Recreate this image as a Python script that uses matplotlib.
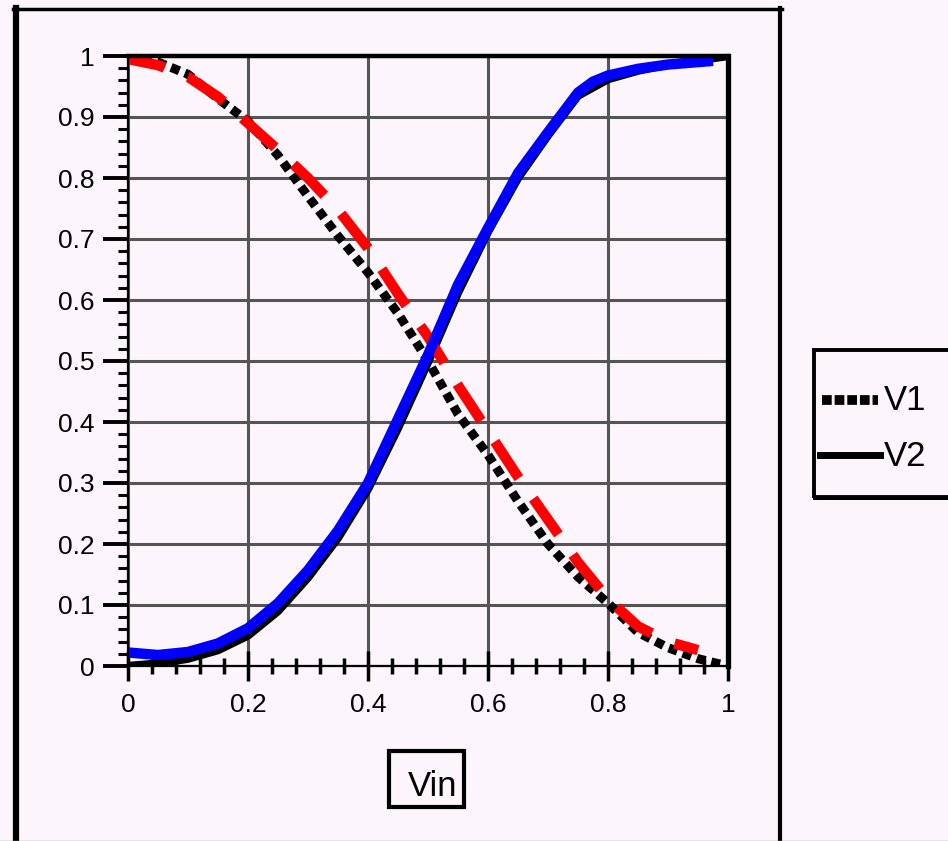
import numpy as np
import matplotlib
matplotlib.use('Agg')
import matplotlib.pyplot as plt
from matplotlib.lines import Line2D
from matplotlib.patches import Rectangle

plt.rcParams['font.family'] = ['Liberation Sans', 'DejaVu Sans']

# V1 (black dotted) and V2 (black solid)
v1_x = [0, 0.05, 0.1, 0.15, 0.2, 0.25, 0.3, 0.35, 0.4, 0.45, 0.5, 0.55, 0.6, 0.65, 0.7, 0.75, 0.8, 0.85, 0.9, 0.95, 1.0]
v1_y = [1.0, 0.99, 0.97, 0.93, 0.893, 0.837, 0.77, 0.705, 0.645, 0.578, 0.50, 0.413, 0.346, 0.27, 0.2, 0.146, 0.103, 0.055, 0.03, 0.012, 0.0]
v2_x = [0, 0.05, 0.1, 0.15, 0.2, 0.25, 0.3, 0.35, 0.4, 0.45, 0.5, 0.55, 0.6, 0.65, 0.7, 0.75, 0.8, 0.85, 0.9, 0.95, 1.0]
v2_y = [0.0, 0.004, 0.012, 0.026, 0.05, 0.09, 0.145, 0.21, 0.29, 0.39, 0.498, 0.612, 0.712, 0.80, 0.87, 0.935, 0.962, 0.976, 0.986, 0.993, 1.0]

# red dashed and blue solid overlays
red_x = [-0.01, 0.05, 0.1, 0.15, 0.2, 0.25, 0.3, 0.35, 0.4, 0.45, 0.5, 0.55, 0.6, 0.65, 0.7, 0.75, 0.8, 0.85, 0.9, 0.95]
red_y = [0.997, 0.985, 0.966, 0.933, 0.89, 0.846, 0.80, 0.748, 0.685, 0.61, 0.54, 0.46, 0.385, 0.31, 0.24, 0.17, 0.11, 0.065, 0.04, 0.026]
blue_x = [-0.01, 0.05, 0.1, 0.15, 0.2, 0.25, 0.3, 0.35, 0.4, 0.45, 0.5, 0.55, 0.6, 0.65, 0.7, 0.75, 0.775, 0.8, 0.85, 0.9, 0.975]
blue_y = [0.023, 0.018, 0.023, 0.037, 0.062, 0.103, 0.157, 0.222, 0.30, 0.405, 0.51, 0.625, 0.718, 0.808, 0.875, 0.94, 0.958, 0.968, 0.979, 0.986, 0.992]

x_major = [0, 0.2, 0.4, 0.6, 0.8, 1.0]
x_labels = ['0', '0.2', '0.4', '0.6', '0.8', '1']
y_major = [0, 0.1, 0.2, 0.3, 0.4, 0.5, 0.6, 0.7, 0.8, 0.9, 1.0]
y_labels = ['0', '0.1', '0.2', '0.3', '0.4', '0.5', '0.6', '0.7', '0.8', '0.9', '1']

W, H = 948, 841
bg = '#fcf6fc'
fig = plt.figure(figsize=(W / 100, H / 100), dpi=100, facecolor=bg)
ax = fig.add_axes([128 / W, 1 - 666 / H, 600 / W, 610 / H])
ax.set_facecolor(bg)

ax.plot(v1_x, v1_y, color='black', lw=6.5, linestyle=(0, (1, 0.65)), dash_capstyle='butt', zorder=3)
ax.plot(v2_x, v2_y, color='black', lw=6, solid_capstyle='butt', zorder=3)
ax.plot(red_x, red_y, color='#ff0000', lw=7.5, linestyle=(0, (4.2, 2.4)), dash_capstyle='butt', zorder=4)
ax.plot(blue_x, blue_y, color='#0000ff', lw=7.5, solid_capstyle='butt', zorder=5)

ax.set_xlim(0, 1)
ax.set_ylim(0, 1)
ax.set_xticks(x_major)
ax.set_xticklabels(x_labels)
ax.set_yticks(y_major)
ax.set_yticklabels(y_labels)
ax.set_xticks(np.arange(0, 1.001, 0.04), minor=True)
ax.set_yticks(np.arange(0, 1.001, 0.02), minor=True)

ax.grid(True, which='major', color='#555555', lw=2.2, zorder=1)
ax.set_axisbelow(True)

ax.tick_params(axis='y', which='major', direction='out', length=18, width=2.8, pad=6, labelsize=19)
ax.tick_params(axis='y', which='minor', direction='out', length=7.5, width=2.2)
ax.tick_params(axis='x', which='major', direction='inout', length=21, width=2.5, pad=9, labelsize=19)
ax.tick_params(axis='x', which='minor', direction='inout', length=12, width=2.5)

ax.spines['top'].set_linewidth(3.2)
ax.spines['right'].set_linewidth(3.8)
ax.spines['left'].set_linewidth(1.6)
ax.spines['bottom'].set_linewidth(1.6)
for s in ax.spines.values():
    s.set_zorder(6)

# outer frame
fig.add_artist(Line2D([16 / W, 16 / W], [0, 1 - 8 / H], color='black', lw=4.5))
fig.add_artist(Line2D([13 / W, 782 / W], [1 - 9 / H, 1 - 9 / H], color='black', lw=2.5))
fig.add_artist(Line2D([780 / W, 780 / W], [0, 1 - 8 / H], color='black', lw=3))
fig.add_artist(Line2D([0, 1], [0.5 / H, 0.5 / H], color='#999999', lw=1))

# x label in a box
fig.add_artist(Rectangle((389 / W, 1 - 807 / H), 75 / W, 56 / H, fill=False, ec='black', lw=3))
fig.text(433 / W, 1 - 786 / H, 'Vin', fontsize=25, ha='center', va='center')

# legend box
fig.add_artist(Rectangle((814 / W, 1 - 498 / H), 200 / W, 148 / H, fill=False, ec='black', lw=2.8))
fig.add_artist(Line2D([815 / W, 960 / W], [1 - 497 / H, 1 - 497 / H], color='black', lw=3.5))
fig.add_artist(Line2D([822 / W, 878 / W], [1 - 400 / H, 1 - 400 / H], color='black', lw=7,
                      linestyle=(0, (1, 0.3)), dash_capstyle='butt'))
fig.add_artist(Line2D([820 / W, 880 / W], [1 - 455 / H, 1 - 455 / H], color='black', lw=5))
fig.text(884 / W, 1 - 401 / H, 'V1', fontsize=25, ha='left', va='center')
fig.text(884 / W, 1 - 456 / H, 'V2', fontsize=25, ha='left', va='center')

fig.savefig('out.png', dpi=100, facecolor=bg)
